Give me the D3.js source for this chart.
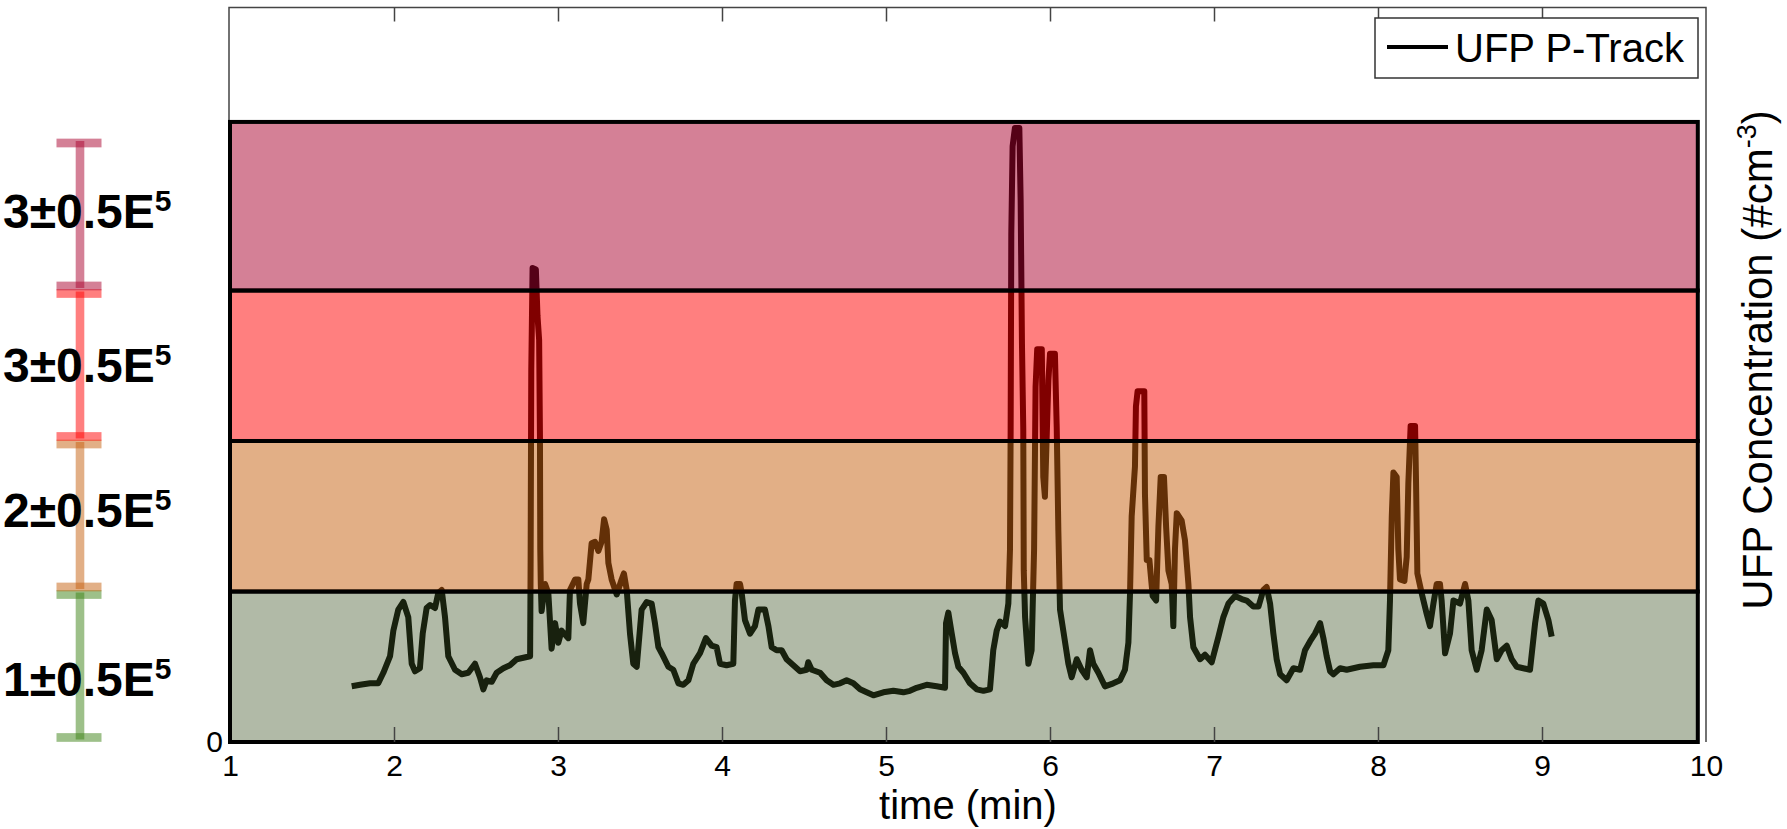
<!DOCTYPE html>
<html>
<head>
<meta charset="utf-8">
<script src="https://cdn.jsdelivr.net/npm/d3@7"></script>
<style>
  body { margin: 0; background: #fff; }
  text { font-family: "Liberation Sans", Arial, sans-serif; fill: #000; }
</style>
</head>
<body>
<script>
// UFP trace: time (min) and concentration (x 1E5 #cm-3)
const timeMin = [
  1.742, 1.793, 1.854, 1.904, 1.935, 1.976, 1.996, 2.026, 2.057, 2.087, 2.108, 2.128, 2.158, 2.175,
  2.199, 2.220, 2.250, 2.270, 2.291, 2.311, 2.331, 2.372, 2.413, 2.453, 2.494, 2.524, 2.545, 2.565,
  2.596, 2.626, 2.667, 2.707, 2.748, 2.789, 2.830, 2.833, 2.837, 2.845, 2.865, 2.875, 2.885, 2.890,
  2.892, 2.895, 2.900, 2.921, 2.941, 2.961, 2.982, 3.002, 3.022, 3.063, 3.073, 3.104, 3.124, 3.134,
  3.154, 3.175, 3.185, 3.205, 3.226, 3.246, 3.266, 3.281, 3.297, 3.307, 3.327, 3.358, 3.388, 3.402,
  3.419, 3.439, 3.459, 3.480, 3.510, 3.541, 3.571, 3.591, 3.612, 3.632, 3.673, 3.703, 3.734, 3.764,
  3.795, 3.825, 3.866, 3.902, 3.937, 3.967, 3.988, 4.028, 4.069, 4.079, 4.089,
  4.110, 4.120, 4.140, 4.171, 4.201, 4.222, 4.262, 4.283, 4.303, 4.333, 4.364, 4.394, 4.435, 4.476,
  4.516, 4.526, 4.547, 4.598, 4.638, 4.679, 4.720, 4.760, 4.801, 4.842, 4.882, 4.923, 4.984, 5.045,
  5.106, 5.146, 5.187, 5.248, 5.309, 5.360, 5.366, 5.380, 5.401, 5.421, 5.441, 5.472, 5.512, 5.553,
  5.594, 5.634, 5.654, 5.675, 5.695, 5.726, 5.746, 5.756, 5.760, 5.764, 5.772, 5.786, 5.813, 5.821,
  5.829, 5.837, 5.840, 5.848, 5.868, 5.888, 5.903, 5.912, 5.922, 5.950, 5.959, 5.969, 5.990, 6.000,
  6.030, 6.041, 6.051, 6.061, 6.081, 6.112, 6.132, 6.163, 6.193, 6.224, 6.244, 6.264, 6.295, 6.335,
  6.386, 6.427, 6.457, 6.478, 6.488, 6.498, 6.518, 6.524, 6.534, 6.575, 6.579, 6.590, 6.606, 6.626,
  6.647, 6.661, 6.675, 6.695, 6.708, 6.722, 6.742, 6.752, 6.762, 6.773, 6.803, 6.823, 6.844, 6.854,
  6.874, 6.915, 6.945, 6.986, 7.027, 7.057, 7.088, 7.128, 7.169, 7.199, 7.240, 7.271, 7.301, 7.321,
  7.342, 7.362, 7.382, 7.403, 7.443, 7.484, 7.525, 7.555, 7.586, 7.616, 7.647, 7.667, 7.687, 7.708,
  7.728, 7.769, 7.809, 7.890, 7.972, 8.033, 8.063, 8.073, 8.084, 8.094, 8.114, 8.124, 8.134, 8.161,
  8.175, 8.185, 8.199, 8.226, 8.232, 8.240, 8.266, 8.297, 8.317, 8.338, 8.358, 8.378, 8.388, 8.409,
  8.439, 8.460, 8.500, 8.531, 8.551, 8.571, 8.602, 8.632, 8.663, 8.693, 8.724, 8.754, 8.785, 8.815,
  8.846, 8.886, 8.927, 8.958, 8.978, 9.008, 9.039, 9.059
];
const ufp = [
  0.37, 0.38, 0.39, 0.39, 0.46, 0.57, 0.74, 0.88, 0.93, 0.83, 0.52, 0.47, 0.49, 0.72,
  0.89, 0.91, 0.89, 0.99, 1.01, 0.83, 0.57, 0.48, 0.45, 0.46, 0.52, 0.43, 0.35, 0.41,
  0.40, 0.46, 0.49, 0.51, 0.55, 0.56, 0.57, 1.19, 2.47, 3.15, 3.14, 2.83, 2.67, 2.03,
  1.28, 1.05, 0.87, 1.05, 0.99, 0.62, 0.79, 0.66, 0.74, 0.69, 1.01, 1.08, 1.08, 0.92,
  0.79, 1.05, 1.08, 1.32, 1.33, 1.27, 1.33, 1.48, 1.41, 1.19, 1.08, 0.98, 1.08, 1.12,
  1.01, 0.72, 0.52, 0.50, 0.88, 0.93, 0.92, 0.79, 0.63, 0.59, 0.50, 0.48, 0.39, 0.38,
  0.41, 0.52, 0.59, 0.69, 0.64, 0.63, 0.52, 0.51, 0.52, 0.94, 1.05,
  1.05, 0.99, 0.81, 0.72, 0.77, 0.88, 0.88, 0.77, 0.63, 0.61, 0.61, 0.55, 0.51, 0.47,
  0.48, 0.53, 0.48, 0.46, 0.41, 0.38, 0.39, 0.41, 0.39, 0.35, 0.33, 0.31, 0.33, 0.34,
  0.33, 0.34, 0.36, 0.38, 0.37, 0.36, 0.79, 0.86, 0.72, 0.59, 0.50, 0.46, 0.39, 0.35,
  0.34, 0.35, 0.61, 0.74, 0.80, 0.77, 0.92, 1.28, 2.07, 3.38, 3.96, 4.08, 4.08, 3.60,
  2.65, 2.08, 1.14, 0.83, 0.52, 0.61, 1.28, 2.36, 2.61, 2.61, 1.76, 1.63, 2.40, 2.58,
  2.58, 2.09, 1.40, 0.88, 0.74, 0.52, 0.43, 0.55, 0.48, 0.43, 0.61, 0.52, 0.46, 0.37,
  0.39, 0.41, 0.48, 0.66, 0.99, 1.50, 1.83, 2.23, 2.33, 2.33, 1.65, 1.21, 1.21, 0.97,
  0.94, 1.43, 1.76, 1.76, 1.43, 1.14, 1.05, 0.77, 1.28, 1.52, 1.47, 1.34, 1.05, 0.83,
  0.63, 0.55, 0.58, 0.53, 0.70, 0.83, 0.92, 0.97, 0.95, 0.94, 0.90, 0.90, 1.01, 1.03,
  0.92, 0.72, 0.55, 0.45, 0.41, 0.49, 0.48, 0.61, 0.67, 0.72, 0.79, 0.69, 0.57, 0.47,
  0.45, 0.49, 0.48, 0.50, 0.51, 0.51, 0.61, 0.94, 1.50, 1.79, 1.76, 1.28, 1.08, 1.07,
  1.23, 1.72, 2.10, 2.10, 1.72, 1.12, 0.99, 0.85, 0.77, 0.92, 1.05, 1.05, 0.94, 0.59,
  0.72, 0.94, 0.92, 1.05, 0.94, 0.61, 0.48, 0.61, 0.88, 0.81, 0.55, 0.61, 0.64, 0.55,
  0.50, 0.49, 0.48, 0.79, 0.94, 0.92, 0.81, 0.70
];

const xTicks = [1, 2, 3, 4, 5, 6, 7, 8, 9, 10];
const yTicks = [0];

// exposure bands (same units), bottom to top
const bandLow = [0, 1, 2, 3];
const bandHigh = [1, 2, 3, 4.12];
const bandLabels = ["1±0.5E", "2±0.5E", "3±0.5E", "3±0.5E"];
const seriesName = "UFP P-Track";

// styles
const bandFill = ["rgb(60,82,35)", "rgb(197,95,13)", "rgb(255,0,0)", "rgb(169,1,45)"];
const bandAlpha = [0.4, 0.5, 0.5, 0.5];
const gaugeFill = ["rgb(60,130,20)", "rgb(197,95,13)", "rgb(255,0,0)", "rgb(169,1,45)"];
const labelNudge = [30, 12, 17, 14];

const W = 1787, H = 829;
const svg = d3.select("body").append("svg")
  .attr("width", W).attr("height", H)
  .style("background", "#fff");

const x = d3.scaleLinear().domain([1, 10]).range([230, 1706]);
const y = d3.scaleLinear().domain([0, 4.877]).range([742, 8]);

// thin axes box
const frame = svg.append("g").attr("stroke", "#444").attr("stroke-width", 1.5).attr("fill", "none");
frame.append("path").attr("d", `M${x(1) - 1},742 V${y(4.877) - 0.5} H${x(10)} V742`);

// the trace goes under the translucent bands
const data = timeMin.map((t, i) => ({ t: t, v: ufp[i] }));
const valueLine = d3.line().x(d => x(d.t)).y(d => y(d.v));
svg.append("path")
  .attr("d", valueLine(data))
  .attr("fill", "none")
  .attr("stroke", "#000")
  .attr("stroke-width", 6)
  .attr("stroke-linejoin", "round");

// bands
const bandRight = 9.95;
svg.append("g").selectAll("rect")
  .data(bandLow)
  .join("rect")
  .attr("x", x(1))
  .attr("width", x(bandRight) - x(1))
  .attr("y", (d, i) => y(bandHigh[i]))
  .attr("height", (d, i) => y(d) - y(bandHigh[i]))
  .attr("fill", (d, i) => bandFill[i])
  .attr("fill-opacity", (d, i) => bandAlpha[i])
  .attr("stroke", "#000")
  .attr("stroke-width", 4);

// x axis, ticks pointing inward
const axeX = svg.append("g")
  .attr("transform", "translate(0,742)")
  .call(d3.axisBottom(x).tickValues(xTicks).tickSize(-15).tickPadding(13).tickFormat(d3.format("d")));
axeX.select(".domain").remove();
axeX.selectAll(".tick line").attr("stroke", "#444").attr("stroke-width", 1.5);
axeX.selectAll("text").style("font-size", "30px").attr("fill", "#000");
axeX.selectAll(".tick").filter(d => d === 1 || d === 10).select("line").remove();

const axeTop = svg.append("g")
  .attr("transform", "translate(0,7.5)")
  .call(d3.axisTop(x).tickValues(xTicks.slice(1, -1)).tickSize(-14).tickFormat(""));
axeTop.select(".domain").remove();
axeTop.selectAll(".tick line").attr("stroke", "#444").attr("stroke-width", 1.5);

const axeY = svg.append("g")
  .attr("transform", `translate(${x(1)},0)`)
  .call(d3.axisLeft(y).tickValues(yTicks).tickSize(0).tickPadding(7).tickFormat(d3.format("d")));
axeY.select(".domain").remove();
axeY.selectAll("text").style("font-size", "30px").attr("fill", "#000");

// axis titles
svg.append("text")
  .attr("x", (x(1) + x(10)) / 2)
  .attr("y", 819)
  .attr("text-anchor", "middle")
  .style("font-size", "40px")
  .text("time (min)");

const yTitle = svg.append("text")
  .attr("transform", "translate(1772,360) rotate(-90)")
  .attr("text-anchor", "middle")
  .style("font-size", "42px");
yTitle.append("tspan").text("UFP Concentration (#cm");
yTitle.append("tspan").attr("dy", -16).style("font-size", "27px").text("-3");
yTitle.append("tspan").attr("dy", 16).text(")");

// legend
const legend = svg.append("g");
legend.append("rect")
  .attr("x", 1375).attr("y", 18).attr("width", 323).attr("height", 60)
  .attr("fill", "#fff").attr("stroke", "#333").attr("stroke-width", 1.5);
legend.append("line")
  .attr("x1", 1387).attr("x2", 1448).attr("y1", 47).attr("y2", 47)
  .attr("stroke", "#000").attr("stroke-width", 4);
legend.append("text")
  .attr("x", 1455).attr("y", 62)
  .style("font-size", "40px")
  .text(seriesName);

// range gauges on the left
const gx = 79, capW = 45, capH = 8.7, barW = 8.6;
const gauges = svg.append("g");
bandLow.forEach((lo, i) => {
  const top = y(lo + 0.98), bot = y(lo + 0.03);
  const g = gauges.append("g").attr("fill", gaugeFill[i]).attr("fill-opacity", 0.5);
  g.append("rect").attr("x", gx - barW / 2 + 1).attr("width", barW)
    .attr("y", top - 2).attr("height", bot - top + 4);
  g.append("rect").attr("x", gx - capW / 2).attr("width", capW)
    .attr("y", top - capH / 2).attr("height", capH);
  g.append("rect").attr("x", gx - capW / 2).attr("width", capW)
    .attr("y", bot - capH / 2).attr("height", capH);

  const lab = svg.append("text")
    .attr("x", 3)
    .attr("y", (top + bot) / 2 + labelNudge[i])
    .style("font-size", "48px")
    .style("font-weight", "bold")
    .attr("fill", "#231f20");
  lab.append("tspan").text(bandLabels[i]);
  lab.append("tspan").attr("dy", -17).style("font-size", "30px").text("5");
});
</script>
</body>
</html>
